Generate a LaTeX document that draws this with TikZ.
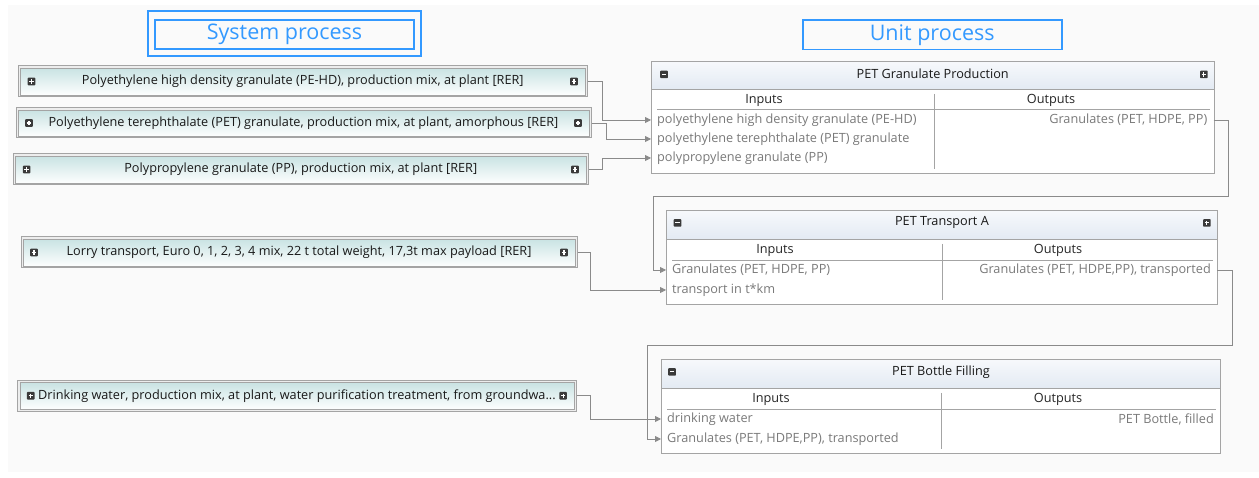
\documentclass[tikz,border=0pt]{standalone}
\usepackage{fontspec}
\setmainfont{Open Sans}
\usetikzlibrary{arrows.meta}
\definecolor{blueT}{HTML}{3399FF}
\definecolor{lineG}{HTML}{8A8A8A}
\definecolor{boxG}{HTML}{A4A4A4}
\definecolor{itemG}{HTML}{7A7A7A}
\definecolor{tealT}{HTML}{C9E3E3}
\definecolor{hdrB}{HTML}{E3EAF3}
\definecolor{bgG}{HTML}{FAFAFA}
\definecolor{iconG}{HTML}{3A3A3A}
\tikzset{
  plusicon/.pic={\fill[iconG, rounded corners=0.8pt] (-3.8,-3.8) rectangle (3.8,3.8);
    \draw[white, line width=1.1pt] (-2.2,0)--(2.2,0) (0,-2.2)--(0,2.2);},
  minusicon/.pic={\fill[iconG, rounded corners=0.8pt] (-3.8,-3.8) rectangle (3.8,3.8);
    \draw[white, line width=1.1pt] (-2.2,0)--(2.2,0);}
}
\begin{document}
\begin{tikzpicture}[x=1pt,y=-1pt,
  every node/.style={font=\fontsize{12.7}{15}\selectfont, inner sep=0},
  sysbox/.style={draw=boxG, line width=1pt, fill=white!93!black, text=black!90},
  sysinner/.style={draw=boxG, line width=0.7pt, top color=tealT, bottom color=white!96!tealT},
  unitbox/.style={draw=boxG, line width=0.9pt, fill=white, anchor=north west},
  hdr/.style={draw=boxG, line width=0.9pt, top color=white!70!hdrB, bottom color=hdrB, anchor=north west, minimum height=28pt},
  hdrtitle/.style={text=black!90, yshift=2.2pt},
  colhead/.style={text=black!85},
  rowin/.style={anchor=west, inner xsep=6pt, text=itemG},
  rowout/.style={anchor=east, inner xsep=6pt, text=itemG},
  sep/.style={draw=boxG, line width=0.9pt},
  conn/.style={draw=lineG, line width=0.8pt, -{Triangle[length=6pt,width=6pt]}},
  titlebox/.style={draw=blueT, line width=1.6pt, text=blueT, font=\fontsize{21.5}{24}\selectfont}
]
\useasboundingbox (0,0) rectangle (1259,478);
\fill[bgG] (8,5) rectangle (1259,472);

% titles
\node[draw=blueT, line width=1.8pt, minimum width=273pt, minimum height=45.5pt] (sysouter) at (284.5,33.5) {};
\node[titlebox, minimum width=259pt, minimum height=29pt] (systitle) at (284.5,34.5) {System process};
\node[titlebox, minimum width=259pt, minimum height=29.3pt] (unittitle) at (932.2,34.7) {Unit process};

% system processes (outer frame, then inner shaded frame, then text)
\foreach \n/\cx/\cy/\w/\h in {s1/302.75/81.5/568.5/31, s2/303.5/123/575/30, s3/300.8/169.5/574.4/31, lorry/299/252.5/556/31, water/296.9/395.75/558.3/30.5}{
  \node[sysbox, minimum width=\w pt, minimum height=\h pt] (\n) at (\cx,\cy) {};
  \draw[sysinner] ([xshift=2.6pt,yshift=-2.6pt]\n.north west) rectangle ([xshift=-2.6pt,yshift=2.6pt]\n.south east);
  \pic at ([xshift=13.5pt]\n.west) {plusicon};
  \pic at ([xshift=-13.5pt]\n.east) {plusicon};
}
\node[text=black!90] (s1t) at (s1) {Polyethylene high density granulate (PE-HD), production mix, at plant [RER]};
\node[text=black!90] (s2t) at (s2) {Polyethylene terephthalate (PET) granulate, production mix, at plant, amorphous [RER]};
\node[text=black!90] (s3t) at (s3) {Polypropylene granulate (PP), production mix, at plant [RER]};
\node[text=black!90] (lorryt) at (lorry) {Lorry transport, Euro 0, 1, 2, 3, 4 mix, 22 t total weight, 17,3t max payload [RER]};
\node[text=black!90] (watert) at (water) {Drinking water, production mix, at plant, water purification treatment, from groundwa...};

% unit process: PET Granulate Production
\node[unitbox, minimum width=562.5pt, minimum height=112pt] (pg) at (651,61) {};
\node[hdr, minimum width=562.5pt] (pgh) at (651,61) {};
\node[hdrtitle] (pgt) at (pgh) {PET Granulate Production};
\pic at ([xshift=13pt,yshift=1pt]pgh.west) {minusicon};
\pic at ([xshift=-10.5pt,yshift=1pt]pgh.east) {plusicon};
\node[colhead] (pgin) at (764,100) {Inputs};
\node[colhead] (pgout) at (1051,100) {Outputs};
\draw[sep] (657,109) -- (1209.5,109);
\draw[sep] (934,94) -- (934,169);
\node[rowin] (pgi1) at (651,120) {polyethylene high density granulate (PE-HD)};
\node[rowin] (pgi2) at (651,139) {polyethylene terephthalate (PET) granulate};
\node[rowin] (pgi3) at (651,158) {polypropylene granulate (PP)};
\node[rowout] (pgo1) at (1213.5,120) {Granulates (PET, HDPE, PP)};

% unit process: PET Transport A
\node[unitbox, minimum width=551pt, minimum height=94pt] (ta) at (666,210) {};
\node[hdr, minimum width=551pt, minimum height=29pt] (tah) at (666,210) {};
\node[hdrtitle] (tat) at (tah) {PET Transport A};
\pic at ([xshift=11.5pt,yshift=2pt]tah.west) {minusicon};
\pic at ([xshift=-11pt,yshift=2pt]tah.east) {plusicon};
\node[colhead] (tain) at (775,250) {Inputs};
\node[colhead] (taout) at (1058,250) {Outputs};
\draw[sep] (672,260) -- (1213,260);
\draw[sep] (942,244) -- (942,300);
\node[rowin] (tai1) at (666,270) {Granulates (PET, HDPE, PP)};
\node[rowin] (tai2) at (666,290) {transport in t*km};
\node[rowout] (tao1) at (1217,270) {Granulates (PET, HDPE,PP), transported};

% unit process: PET Bottle Filling
\node[unitbox, minimum width=559pt, minimum height=94pt] (bf) at (661,359) {};
\node[hdr, minimum width=559pt, minimum height=29pt] (bfh) at (661,359) {};
\node[hdrtitle] (bft) at (bfh) {PET Bottle Filling};
\pic at ([xshift=11pt,yshift=2pt]bfh.west) {minusicon};
\node[colhead] (bfin) at (771,399) {Inputs};
\node[colhead] (bfout) at (1058,399) {Outputs};
\draw[sep] (667,409) -- (1216,409);
\draw[sep] (941,393) -- (941,449);
\node[rowin] (bfi1) at (661,419) {drinking water};
\node[rowin] (bfi2) at (661,439) {Granulates (PET, HDPE,PP), transported};
\node[rowout] (bfo1) at (1220,419) {PET Bottle, filled};

% connectors
\draw[conn] (s1.east) -- ++(14.5,0) |- (pgi1.west);
\draw[conn] (s2.east) -- ++(15,0) |- (pgi2.west);
\draw[conn] (s3.east) -- ++(14,0) |- (pgi3.west);
\draw[conn] (pgo1.east) -- ++(14.5,0) -- ++(0,76) -| ([xshift=-13pt]tai1.west) -- (tai1.west);
\draw[conn] (lorry.east) -- ++(13,0) |- (tai2.west);
\draw[conn] (tao1.east) -- ++(15,0) -- ++(0,75.5) -| ([xshift=-14pt]bfi2.west) -- (bfi2.west);
\draw[conn] (water.east) -- ++(14,0) |- (bfi1.west);
\end{tikzpicture}
\end{document}
